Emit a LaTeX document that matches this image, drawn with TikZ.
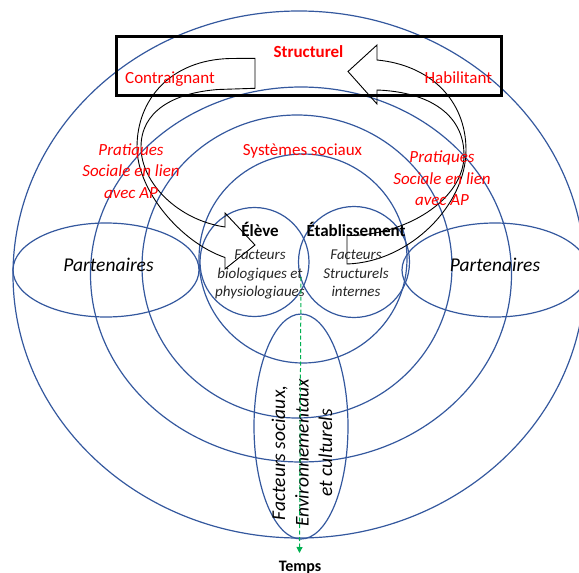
\documentclass[tikz,border=0pt]{standalone}
\usepackage{fontspec}
\setmainfont{Carlito}
\usetikzlibrary{shapes.geometric,arrows.meta}
\definecolor{ringblue}{RGB}{52,88,158}
\definecolor{txtred}{RGB}{255,0,0}
\definecolor{timegreen}{RGB}{0,176,80}
\begin{document}
\begin{tikzpicture}[x=1pt,y=-1pt,
  ring/.style={draw=ringblue,line width=1.2pt,ellipse,inner sep=0pt,outer sep=0pt},
  bandarrow/.style={draw=black,line width=0.9pt,line join=miter},
  framebox/.style={draw=black,line width=3pt},
  redlbl/.style={text=txtred,inner sep=0pt,font=\fontsize{17}{21.5}\selectfont},
  redit/.style={text=txtred,inner sep=0pt,align=center,font=\fontsize{17}{21.5}\selectfont\itshape},
  boldlbl/.style={text=black,inner sep=0pt,font=\fontsize{17}{21}\selectfont\bfseries},
  smallit/.style={text=black!85,inner sep=0pt,align=center,font=\fontsize{15}{18.5}\selectfont\itshape},
  bigit/.style={text=black,inner sep=0pt,align=center,font=\fontsize{19.5}{23.5}\selectfont\itshape},
  timeline/.style={draw=timegreen,line width=1pt,dash pattern=on 4pt off 2.5pt,-{Triangle[length=6pt,width=6pt]}}
]
\useasboundingbox (0,0) rectangle (579,573);

% concentric rings
\node[ring,minimum width=572pt,minimum height=527pt] (outer) at (299,274.5) {};
\node[ring,minimum width=421pt,minimum height=375pt] (second) at (301,274.5) {};
\node[ring,minimum width=310pt,minimum height=303pt] (third) at (297,266.5) {};
\node[ring,minimum width=208pt,minimum height=209pt] (fourth) at (303,258.5) {};

% partners
\node[ring,minimum width=186pt,minimum height=94pt] (partL) at (106,270) {};
\node[ring,minimum width=186pt,minimum height=94pt] (partR) at (495,270) {};

% small circles
\node[ring,minimum width=109pt,minimum height=109pt] (eleve) at (254.5,262) {};
\node[ring,minimum width=111pt,minimum height=111pt] (etab) at (354,262) {};

% vertical ellipse
\node[ring,minimum width=94pt,minimum height=225pt] (vert) at (301,426.5) {};

% frame
\draw[framebox] (116.5,36) rectangle (501,95);

% left band arrow (Contraignant -> Eleve)
\draw[bandarrow] (255,58.3) -- (230,58.5)
  .. controls (170,60) and (137,100) .. (137,147)
  .. controls (137,190) and (180,242) .. (225,257.5)
  -- (225,269) -- (255,245) -- (225,213) -- (225,227)
  .. controls (178,220) and (141,183) .. (141,147)
  .. controls (141,112) and (172,93) .. (218,89.5)
  -- (255,88.3) -- cycle;

% right band arrow (Etablissement -> Habilitant)
\draw[bandarrow] (348,71.5) -- (377,45) -- (377,60)
  .. controls (430,65) and (466,100) .. (466,150)
  .. controls (466,205) and (410,262) .. (347,264)
  -- (347,235.5)
  .. controls (405,236) and (464,200) .. (464,155)
  .. controls (464,115) and (430,92) .. (377,90)
  -- (377,104) -- cycle;

% texts
\node[redlbl,font=\fontsize{17}{21}\selectfont\bfseries,anchor=base] (structurel) at (308.5,57) {Structurel};
\node[redlbl,anchor=base west] (contraignant) at (125,83.3) {Contraignant};
\node[redlbl,anchor=base east] (habilitant) at (492.3,83.3) {Habilitant};
\node[redlbl,anchor=base] (systemes) at (302.5,155) {Systèmes sociaux};
\node[redit,anchor=base] (pratL) at (131,198) {Pratiques\\Sociale en lien\\avec AP};
\node[redit,anchor=base] (pratR) at (442,205.5) {Pratiques\\Sociale en lien\\avec AP};

\node[boldlbl,anchor=base] (elevelbl) at (260,236.7) {Élève};
\node[boldlbl,anchor=base] (etablbl) at (356,236.7) {Établissement};
\node[smallit,anchor=base] (elevetxt) at (260,296.5) {Facteurs\\biologiques et\\physiologiaues};
\node[smallit,anchor=base] (etabtxt) at (356,296.5) {Facteurs\\Structurels\\internes};

\node[bigit,anchor=base] (partLtxt) at (108.5,271.7) {Partenaires};
\node[bigit,anchor=base] (partRtxt) at (495,271.7) {Partenaires};

\node[bigit,rotate=90,anchor=center] (vertxt) at (302,453) {Facteurs sociaux,\\Environnementaux\\et culturels};

% time axis
\coordinate (tstart) at (301,277);
\coordinate (tend) at (299.5,553);
\draw[timeline] (tstart) -- (tend);
\node[text=black,inner sep=0pt,font=\fontsize{16}{19}\selectfont\bfseries,anchor=base] (temps) at (300,571) {Temps};
\end{tikzpicture}
\end{document}
